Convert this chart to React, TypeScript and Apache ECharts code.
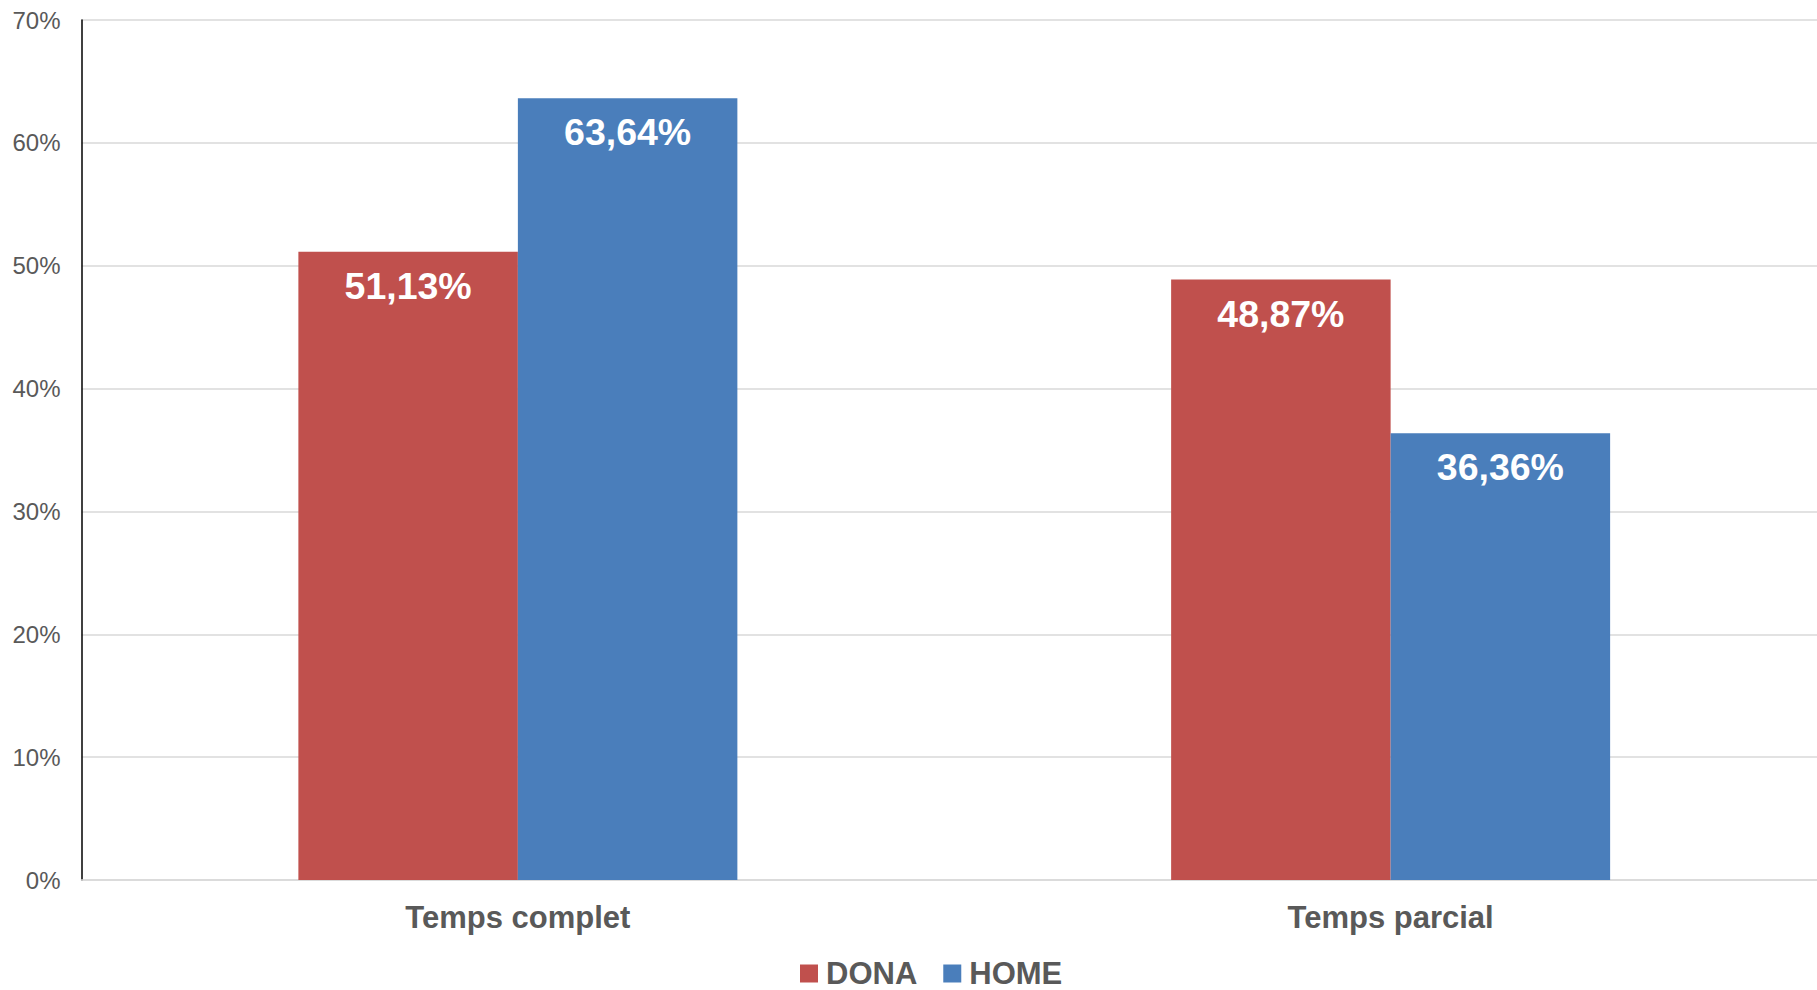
import React, { useEffect, useRef } from "react";
import * as echarts from "echarts";

const categories = ["Temps complet", "Temps parcial"];
const seriesNames = ["DONA", "HOME"];
const donaValues = [51.13, 48.87];
const homeValues = [63.64, 36.36];
const yTicks = [0, 10, 20, 30, 40, 50, 60, 70];

const FONT = "'Liberation Sans', Arial, sans-serif";
const fmt = (v: number) => v.toFixed(2).replace(".", ",") + "%";

export default function App() {
  const ref = useRef<HTMLDivElement>(null);
  useEffect(() => {
    if (!ref.current) return;
    document.body.style.overflow = "hidden";
    const chart = echarts.init(ref.current, null, { renderer: "svg" });
    const labelCfg = {
      show: true,
      position: "insideTop",
      distance: 15,
      color: "#ffffff",
      fontSize: 37.5,
      fontWeight: "bold",
      fontFamily: FONT,
      formatter: (p: any) => fmt(p.value),
    };
    chart.setOption({
      animation: false,
      backgroundColor: "#ffffff",
      textStyle: { fontFamily: FONT },
      grid: { left: 81.5, right: 0, top: 20, bottom: 110, containLabel: false },
      legend: {
        data: seriesNames,
        bottom: -4,
        left: 795,
        icon: "rect",
        itemWidth: 18,
        itemHeight: 18,
        itemGap: 26,
        textStyle: {
          fontSize: 31,
          fontWeight: "bold",
          color: "#595959",
          fontFamily: FONT,
          padding: [0, 0, 0, 3],
        },
      },
      xAxis: {
        type: "category",
        data: categories,
        axisTick: { show: false },
        axisLine: { show: true, lineStyle: { color: "#D9D9D9", width: 1.5 } },
        axisLabel: { fontSize: 31, fontWeight: "bold", color: "#595959", margin: 22, fontFamily: FONT },
      },
      yAxis: {
        type: "value",
        min: yTicks[0],
        max: yTicks[yTicks.length - 1],
        interval: 10,
        axisLine: { show: true, lineStyle: { color: "#000000", width: 1.5 } },
        axisTick: { show: false },
        splitLine: { show: true, lineStyle: { color: "#D9D9D9", width: 1.5 } },
        axisLabel: { formatter: "{value}%", fontSize: 24, color: "#595959", margin: 21, fontFamily: FONT },
      },
      series: [
        {
          name: seriesNames[0],
          type: "bar",
          data: donaValues,
          barGap: "0%",
          barCategoryGap: "49.7%",
          itemStyle: { color: "#C0504D" },
          label: labelCfg,
        },
        {
          name: seriesNames[1],
          type: "bar",
          data: homeValues,
          barGap: "0%",
          barCategoryGap: "49.7%",
          itemStyle: { color: "#4A7EBB" },
          label: labelCfg,
        },
      ],
    });
    return () => chart.dispose();
  }, []);
  return (
    <div
      ref={ref}
      style={{ position: "fixed", left: 0, top: 0, width: 1827, height: 990, background: "#fff" }}
    />
  );
}
